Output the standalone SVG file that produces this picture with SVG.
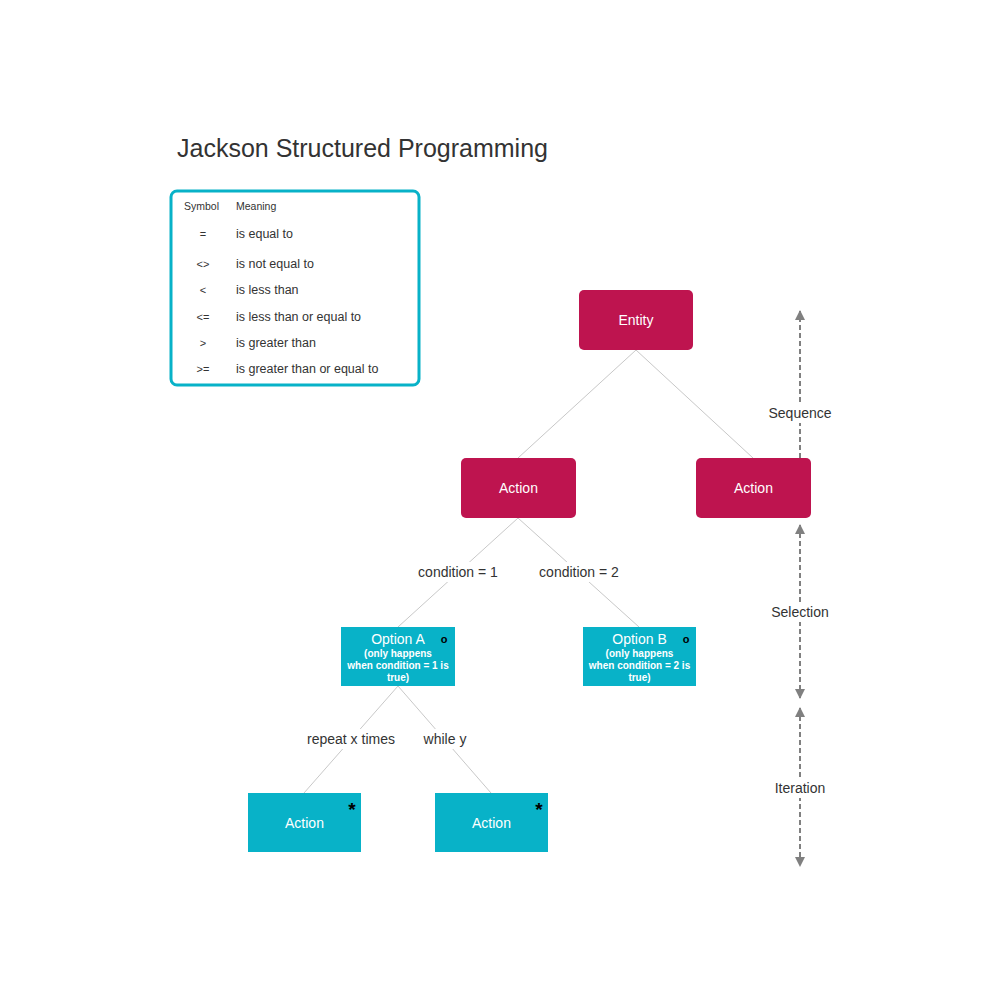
<svg xmlns="http://www.w3.org/2000/svg" width="1000" height="1000" viewBox="0 0 1000 1000">
<defs>
<style>
text{font-family:"Liberation Sans",Arial,sans-serif;}
.red{fill:#be144f;}
.cyan{fill:#08b2c8;}
.nl{fill:#fff;font-size:14px;text-anchor:middle;}
.sub{fill:#fff;font-size:10px;font-weight:bold;text-anchor:middle;}
.edge{stroke:#c8c8c8;stroke-width:1;fill:none;}
.lbl{fill:#333;font-size:14px;text-anchor:middle;}
.dash{stroke:#808080;stroke-width:2;stroke-dasharray:5,3;fill:none;}
.leg{fill:#333;font-size:12.5px;}
.sym{fill:#333;font-size:11px;text-anchor:middle;}
.star{font-size:19px;font-weight:bold;fill:#000;text-anchor:middle;}
</style>
<marker id="ah" viewBox="0 0 10 10" refX="9" refY="5" markerWidth="5" markerHeight="5" orient="auto-start-reverse" markerUnits="strokeWidth">
<path d="M0,0 L10,5 L0,10 z" fill="#808080"/>
</marker>
</defs>
<rect width="1000" height="1000" fill="#fff"/>
<text x="177" y="157" font-size="25" fill="#333">Jackson Structured Programming</text>

<g id="legend">
<rect x="171" y="191" width="248" height="194" rx="6" fill="#fff" stroke="#08b2c8" stroke-width="3"/>
<text x="184" y="210" font-size="10.5" fill="#333">Symbol</text>
<text x="236" y="210" font-size="10.5" fill="#333">Meaning</text>
<text class="sym" x="203" y="238">=</text><text class="leg" x="236" y="238">is equal to</text>
<text class="sym" x="203" y="268">&lt;&gt;</text><text class="leg" x="236" y="268">is not equal to</text>
<text class="sym" x="203" y="294">&lt;</text><text class="leg" x="236" y="294">is less than</text>
<text class="sym" x="203" y="321">&lt;=</text><text class="leg" x="236" y="321">is less than or equal to</text>
<text class="sym" x="203" y="347">&gt;</text><text class="leg" x="236" y="347">is greater than</text>
<text class="sym" x="203" y="373">&gt;=</text><text class="leg" x="236" y="373">is greater than or equal to</text>
</g>

<g id="connectors">
<line class="edge" x1="636" y1="350" x2="518" y2="458"/>
<line class="edge" x1="636" y1="350" x2="753" y2="458"/>
<line class="edge" x1="518" y1="518" x2="398" y2="627"/>
<line class="edge" x1="518" y1="518" x2="639" y2="627"/>
<line class="edge" x1="398" y1="686" x2="304" y2="793"/>
<line class="edge" x1="398" y1="686" x2="491" y2="793"/>
<rect x="416" y="562" width="84" height="20" fill="#fff"/>
<text class="lbl" x="458" y="577">condition = 1</text>
<rect x="537" y="562" width="84" height="20" fill="#fff"/>
<text class="lbl" x="579" y="577">condition = 2</text>
<rect x="306" y="729" width="92" height="20" fill="#fff"/>
<text class="lbl" x="351" y="744">repeat x times</text>
<rect x="422" y="729" width="46" height="20" fill="#fff"/>
<text class="lbl" x="445" y="744">while y</text>
</g>

<g id="entity"><rect class="red" x="579" y="290" width="114" height="60" rx="5"/><text class="nl" x="636" y="325">Entity</text></g>
<g id="action-left"><rect class="red" x="461" y="458" width="115" height="60" rx="5"/><text class="nl" x="518.5" y="493">Action</text></g>
<g id="action-right"><rect class="red" x="696" y="458" width="115" height="60" rx="5"/><text class="nl" x="753.5" y="493">Action</text></g>

<g id="option-a"><rect class="cyan" x="341" y="627" width="114" height="59"/>
<text class="nl" x="398" y="644">Option A</text>
<text class="sub" x="398" y="657">(only happens</text>
<text class="sub" x="398" y="669">when condition = 1 is</text>
<text class="sub" x="398" y="681">true)</text>
<text x="444" y="643" font-size="11" font-weight="bold" fill="#000" text-anchor="middle">o</text></g>

<g id="option-b"><rect class="cyan" x="583" y="627" width="113" height="59"/>
<text class="nl" x="639.5" y="644">Option B</text>
<text class="sub" x="639.5" y="657">(only happens</text>
<text class="sub" x="639.5" y="669">when condition = 2 is</text>
<text class="sub" x="639.5" y="681">true)</text>
<text x="686" y="643" font-size="11" font-weight="bold" fill="#000" text-anchor="middle">o</text></g>

<g id="iter-a"><rect class="cyan" x="248" y="793" width="113" height="59"/>
<text class="nl" x="304.5" y="828">Action</text>
<text class="star" x="352" y="816">*</text></g>
<g id="iter-b"><rect class="cyan" x="435" y="793" width="113" height="59"/>
<text class="nl" x="491.5" y="828">Action</text>
<text class="star" x="539" y="816">*</text></g>

<g id="axis">
<line class="dash" x1="800" y1="458" x2="800" y2="311" marker-end="url(#ah)"/>
<line class="dash" x1="800" y1="525" x2="800" y2="698" marker-start="url(#ah)" marker-end="url(#ah)"/>
<line class="dash" x1="800" y1="708" x2="800" y2="866" marker-start="url(#ah)" marker-end="url(#ah)"/>
<rect x="766" y="403" width="68" height="20" fill="#fff"/>
<text class="lbl" x="800" y="418">Sequence</text>
<rect x="768" y="602" width="64" height="20" fill="#fff"/>
<text class="lbl" x="800" y="617">Selection</text>
<rect x="772" y="778" width="56" height="20" fill="#fff"/>
<text class="lbl" x="800" y="793">Iteration</text>
</g>
</svg>
